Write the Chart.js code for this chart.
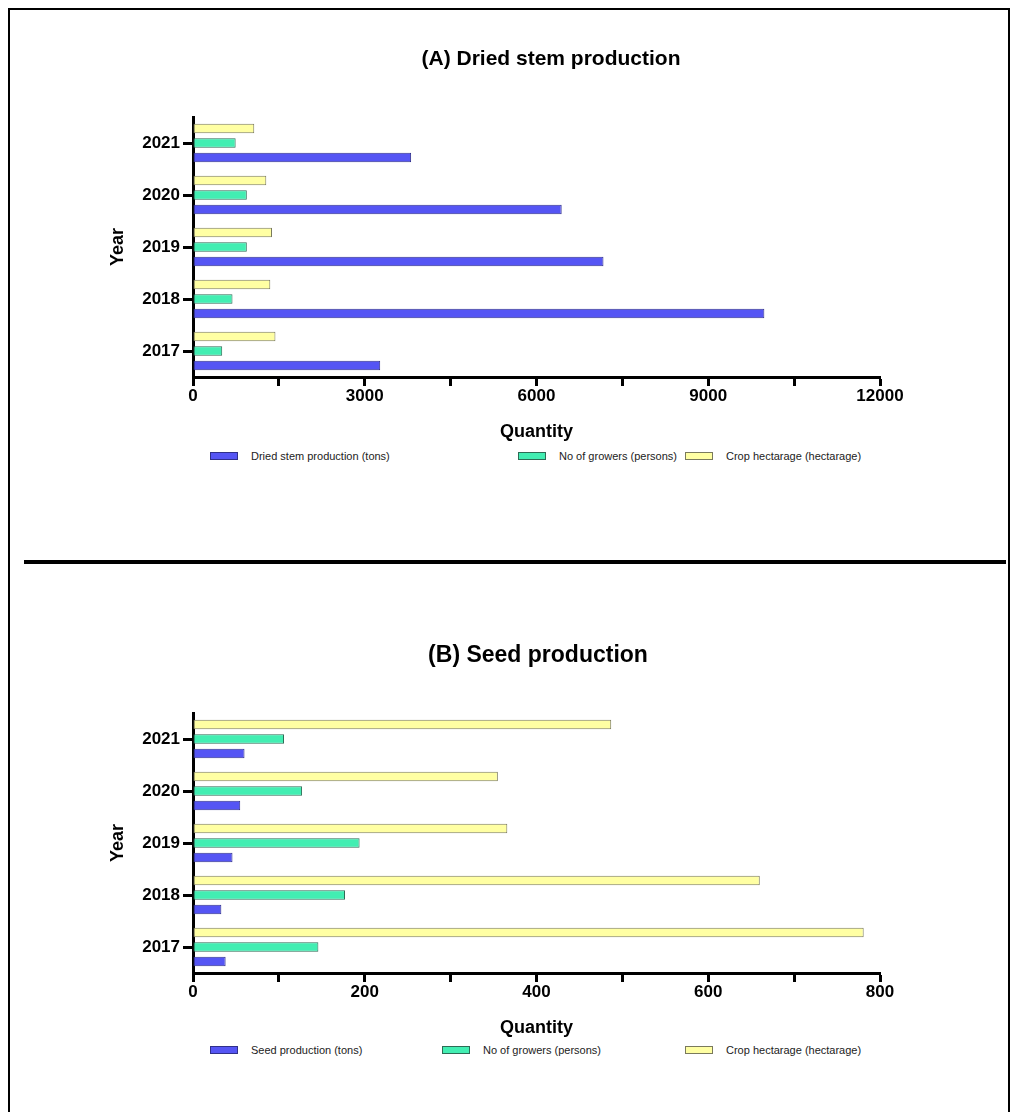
<!DOCTYPE html>
<html>
<head>
<meta charset="utf-8">
<script src="https://cdn.jsdelivr.net/npm/chart.js@4.4.0/dist/chart.umd.min.js"></script>
<style>
  html, body { margin: 0; padding: 0; background: #fff; }
  body { width: 1018px; height: 1112px; position: relative; overflow: hidden; font-family: 'Liberation Sans', Arial, sans-serif; }
  .frame { position: absolute; left: 8px; top: 8px; width: 998px; height: 1140px; border: 2px solid #000; }
  .divider { position: absolute; left: 24px; top: 560px; width: 982px; height: 4px; background: #000; }
  canvas { position: absolute; left: 0; }
  #chartA { top: 0; }
  #chartB { top: 596px; }
  .title { position: absolute; width: 600px; text-align: center; font-size: 21px; font-weight: bold; color: #000; line-height: 26px; }
  #titleA { left: 251px; top: 45px; }
  #titleB { left: 238px; top: 641px; font-size: 23px; }
  .legend { position: absolute; left: 0; width: 1018px; height: 16px; }
  #legendA { top: 448px; }
  #legendB { top: 1042px; }
  .item { position: absolute; top: 0; display: flex; align-items: center; height: 16px; font-size: 11px; color: #222; white-space: nowrap; }
  .item span.box { display: inline-block; width: 26px; height: 6px; margin-right: 13px; }
</style>
</head>
<body>
<div class="frame"></div>
<div class="divider"></div>
<canvas id="chartA" width="1018" height="443"></canvas>
<div class="title" id="titleA">(A) Dried stem production</div>
<div class="legend" id="legendA"></div>
<canvas id="chartB" width="1018" height="443"></canvas>
<div class="title" id="titleB">(B) Seed production</div>
<div class="legend" id="legendB"></div>
<script>
const years = ['2021', '2020', '2019', '2018', '2017'];

// (A) dried stem production
const stemTons = [3810, 6440, 7170, 9980, 3270];
const stemGrowers = [745, 940, 940, 690, 510];
const stemHectares = [1070, 1280, 1380, 1350, 1440];
const stemTicks = [0, 3000, 6000, 9000, 12000];

// (B) seed production
const seedTons = [60, 55, 46, 33, 38];
const seedGrowers = [106, 127, 194, 177, 146];
const seedHectares = [487, 355, 366, 660, 781];
const seedTicks = [0, 200, 400, 600, 800];

const FONT = "'Liberation Sans', Arial, sans-serif";

function makeChart(id, names, values, majorTicks) {
  const max = majorTicks[majorTicks.length - 1];
  const step = (majorTicks[1] - majorTicks[0]) / 2;
  const fills = ['#FFFFA3', '#42EEB2', '#5555F4'];
  const lines = ['#7a7a5c', '#2d6b55', '#30308a'];
  // yellow on top, blue at the bottom of each group
  const datasets = [2, 1, 0].map(i => ({
    label: names[i],
    data: values[i],
    backgroundColor: fills[2 - i],
    borderColor: lines[2 - i],
    borderWidth: 1,
    borderSkipped: false,
    categoryPercentage: 0.84,
    barPercentage: 0.66
  }));
  return new Chart(document.getElementById(id), {
    type: 'bar',
    data: { labels: years, datasets: datasets },
    options: {
      indexAxis: 'y',
      responsive: false,
      animation: false,
      layout: { padding: { left: 93, right: 138, top: 117, bottom: 0 } },
      plugins: {
        legend: { display: false },
        tooltip: { enabled: false }
      },
      scales: {
        x: {
          min: 0,
          max: max,
          afterFit: s => { s.height = 66; },
          ticks: {
            stepSize: step,
            autoSkip: false,
            maxRotation: 0,
            padding: 0,
            color: '#000',
            font: { family: FONT, size: 17, weight: 'bold' },
            callback: v => majorTicks.includes(v) ? String(v) : ''
          },
          grid: { drawOnChartArea: false, drawTicks: true, tickLength: 9, tickWidth: 3, tickColor: '#000' },
          border: { display: true, width: 3, color: '#000' },
          title: {
            display: true,
            text: 'Quantity',
            color: '#000',
            font: { family: FONT, size: 18, weight: 'bold' },
            padding: { top: 0, bottom: 0 }
          }
        },
        y: {
          afterFit: s => { s.width = 100; },
          ticks: {
            padding: 3,
            color: '#000',
            font: { family: FONT, size: 17, weight: 'bold' }
          },
          grid: { drawOnChartArea: false, offset: false, drawTicks: true, tickLength: 10, tickWidth: 3, tickColor: '#000' },
          border: { display: true, width: 3, color: '#000' },
          title: {
            display: true,
            text: 'Year',
            color: '#000',
            font: { family: FONT, size: 18, weight: 'bold' },
            padding: { top: 14, bottom: 0 }
          }
        }
      }
    }
  });
}

function buildLegend(elId, chart, lefts) {
  const el = document.getElementById(elId);
  const items = Chart.defaults.plugins.legend.labels.generateLabels(chart).reverse();
  items.forEach((it, i) => {
    const d = document.createElement('div');
    d.className = 'item';
    d.style.left = lefts[i] + 'px';
    const b = document.createElement('span');
    b.className = 'box';
    b.style.background = it.fillStyle;
    b.style.border = '1px solid ' + it.strokeStyle;
    d.appendChild(b);
    d.appendChild(document.createTextNode(it.text));
    el.appendChild(d);
  });
}

const chartA = makeChart('chartA',
  ['Dried stem production (tons)', 'No of growers (persons)', 'Crop hectarage (hectarage)'],
  [stemTons, stemGrowers, stemHectares], stemTicks);
const chartB = makeChart('chartB',
  ['Seed production (tons)', 'No of growers (persons)', 'Crop hectarage (hectarage)'],
  [seedTons, seedGrowers, seedHectares], seedTicks);

buildLegend('legendA', chartA, [210, 518, 685]);
buildLegend('legendB', chartB, [210, 442, 685]);
</script>
</body>
</html>
